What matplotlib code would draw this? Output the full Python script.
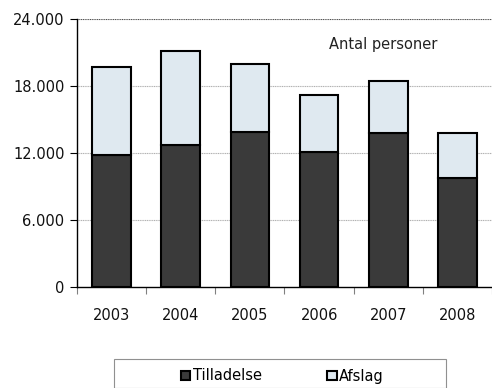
import matplotlib
matplotlib.use("Agg")
import matplotlib.pyplot as plt
from matplotlib.patches import Rectangle
import numpy as np

years = ["2003", "2004", "2005", "2006", "2007", "2008"]
tilladelse = [11850, 12700, 13850, 12050, 13750, 9750]
total = [19700, 21150, 20000, 17150, 18450, 13750]
afslag = [t - g for t, g in zip(total, tilladelse)]
yticks = [0, 6000, 12000, 18000, 24000]
ytick_labels = ["0", "6.000", "12.000", "18.000", "24.000"]

plt.rcParams['font.family'] = ['DejaVu Sans']
fs = 10.5

fig = plt.figure(figsize=(4.92, 3.88), dpi=100)
ax = fig.add_axes([77/492, 1-287/388, 1-77/492, (287-19)/388])

x = np.arange(len(years))
w = 0.56
dark = "#3a3a3a"
light = "#dfe9f0"
ax.bar(x, tilladelse, w, color=dark, edgecolor="black", linewidth=1.5, label="Tilladelse", zorder=3)
ax.bar(x, afslag, w, bottom=tilladelse, color=light, edgecolor="black", linewidth=1.5, label="Afslag", zorder=3)

ax.set_xlim(-0.5, len(years) - 0.5)
ax.set_ylim(0, 24000)
ax.set_yticks(yticks)
ax.set_yticklabels(ytick_labels, fontsize=fs, color="#111111")
ax.set_xticks(x)
ax.set_xticklabels(years, fontsize=fs, color="#111111")
ax.tick_params(axis='x', length=0, pad=15)
ax.set_xticks(np.arange(-0.5, len(years), 1), minor=True)
ax.tick_params(axis='x', which='minor', length=5, color="#808080", width=0.8)
ax.tick_params(axis='y', length=5, width=0.8, pad=4)

for yv in yticks[1:]:
    ax.axhline(yv, color="#b0b0b0" if yv < 24000 else "#505050", linestyle=(0, (1, 0.6)), linewidth=0.8, zorder=1)

for s in ["top", "right"]:
    ax.spines[s].set_visible(False)
ax.spines["left"].set_linewidth(1.0)
ax.spines["bottom"].set_linewidth(1.0)

fig.text(383/492, 1-45/388, "Antal personer", ha="center", va="center", fontsize=fs, color="#222222")

fig.patches.append(Rectangle((114/492, 0), (446-114)/492, 1-359/388, transform=fig.transFigure,
                             fill=False, edgecolor="#909090", linewidth=0.8))
leg = fig.legend(loc="center left", bbox_to_anchor=(181/492, 1-376/388), ncol=2, frameon=False,
                 fontsize=fs, handlelength=0.65, handleheight=0.65, handletextpad=0.15,
                 columnspacing=4.5, borderaxespad=0, borderpad=0)

fig.savefig("out.png", dpi=100)
